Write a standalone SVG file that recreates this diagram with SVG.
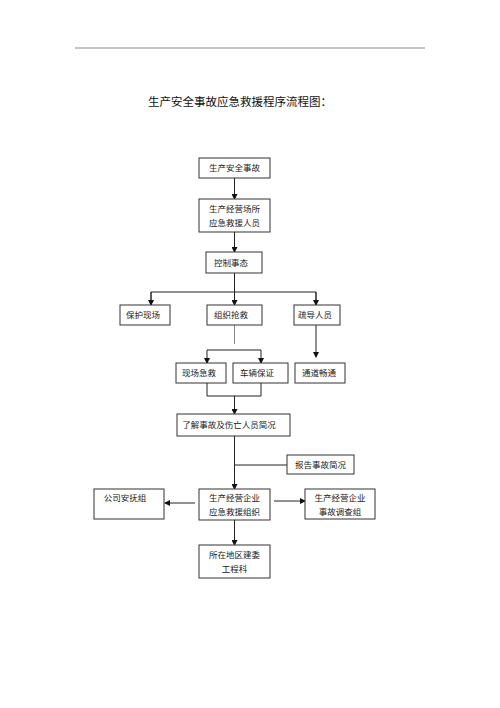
<svg xmlns="http://www.w3.org/2000/svg" width="500" height="708" viewBox="0 0 500 708">
<defs>
<marker id="ah" markerWidth="6" markerHeight="6" refX="5" refY="3" orient="auto" markerUnits="userSpaceOnUse">
<path d="M0,0 L6,3 L0,6 z" fill="#111"/>
</marker>
</defs>
<style>
.box{fill:#fff;stroke:#333;stroke-width:1}
.t{font-family:"Noto Sans CJK SC","Noto Sans",sans-serif;font-size:8.5px;fill:#222;text-anchor:middle}
.ln{fill:none;stroke:#222;stroke-width:1}
.ar{fill:none;stroke:#222;stroke-width:1;marker-end:url(#ah)}
</style>
<rect width="500" height="708" fill="#fff"/>
<line x1="75" y1="48" x2="425" y2="48" stroke="#888" stroke-width="1"/>
<text x="240" y="106" style="font-family:'Noto Sans CJK SC','Noto Sans',sans-serif;font-size:11.5px;fill:#111;text-anchor:middle">生产安全事故应急救援程序流程图：</text>

<g id="connectors">
<line class="ar" x1="234.5" y1="178" x2="234.5" y2="199"/>
<line class="ar" x1="234.5" y1="232" x2="234.5" y2="252"/>
<line class="ln" x1="234.5" y1="273" x2="234.5" y2="292"/>
<polyline class="ln" points="151,305 151,292 316,292 316,305"/>
<line class="ar" x1="151" y1="292" x2="151" y2="305"/>
<line class="ar" x1="234.5" y1="292" x2="234.5" y2="305"/>
<line class="ar" x1="316" y1="292" x2="316" y2="305"/>
<line x1="234.5" y1="325" x2="234.5" y2="344" stroke="#888" stroke-width="1"/>
<line class="ln" x1="207" y1="350" x2="261" y2="350"/>
<line class="ar" x1="207" y1="350" x2="207" y2="363"/>
<line class="ar" x1="261" y1="350" x2="261" y2="363"/>
<line class="ar" x1="316" y1="325" x2="316" y2="357"/>
<polyline class="ln" points="207,383 207,396 261,396 261,383"/>
<line class="ar" x1="234.5" y1="396" x2="234.5" y2="414"/>
<line class="ar" x1="234.5" y1="436" x2="234.5" y2="489"/>
<line class="ln" x1="234.5" y1="465" x2="287" y2="465"/>
<line class="ar" x1="195" y1="503" x2="165" y2="503"/>
<line class="ar" x1="274" y1="501" x2="305" y2="501"/>
<line class="ar" x1="234.5" y1="520" x2="234.5" y2="545"/>
</g>

<g id="n1"><rect class="box" x="199" y="158" width="71" height="20"/><text class="t" x="234.5" y="171">生产安全事故</text></g>
<g id="n2"><rect class="box" x="199" y="199" width="71" height="33"/><text class="t" x="234.5" y="212">生产经营场所</text><text class="t" x="234.5" y="226">应急救援人员</text></g>
<g id="n3"><rect class="box" x="206" y="252" width="56" height="21"/><text class="t" x="231" y="266">控制事态</text></g>
<g id="n4"><rect class="box" x="120" y="305" width="50" height="20"/><text class="t" x="143" y="318">保护现场</text></g>
<g id="n5"><rect class="box" x="207" y="305" width="55" height="20"/><text class="t" x="231" y="318">组织抢救</text></g>
<g id="n6"><rect class="box" x="294" y="305" width="46" height="20"/><text class="t" x="315" y="318">疏导人员</text></g>
<g id="n7"><rect class="box" x="176" y="363" width="50" height="20"/><text class="t" x="199" y="376">现场急救</text></g>
<g id="n8"><rect class="box" x="233" y="363" width="55" height="20"/><text class="t" x="257" y="376">车辆保证</text></g>
<g id="n9"><rect class="box" x="295" y="363" width="50" height="20"/><text class="t" x="319" y="376">通道畅通</text></g>
<g id="n10"><rect class="box" x="177" y="414" width="113" height="22"/><text class="t" x="229" y="428">了解事故及伤亡人员简况</text></g>
<g id="n11"><rect class="box" x="287" y="455" width="67" height="19"/><text class="t" x="320.5" y="468">报告事故简况</text></g>
<g id="n12"><rect class="box" x="199" y="489" width="71" height="31"/><text class="t" x="234.5" y="501">生产经营企业</text><text class="t" x="234.5" y="515">应急救援组织</text></g>
<g id="n13"><rect class="box" x="94" y="489" width="70" height="30"/><text class="t" x="125" y="501">公司安抚组</text></g>
<g id="n14"><rect class="box" x="305" y="489" width="70" height="30"/><text class="t" x="340" y="501">生产经营企业</text><text class="t" x="340" y="515">事故调查组</text></g>
<g id="n15"><rect class="box" x="199" y="545" width="71" height="33"/><text class="t" x="234.5" y="558">所在地区建委</text><text class="t" x="234.5" y="572">工程科</text></g>
</svg>
